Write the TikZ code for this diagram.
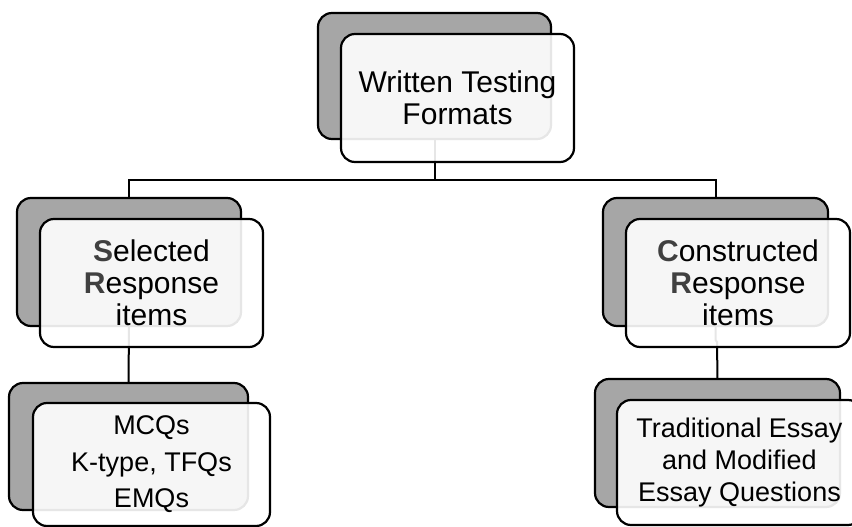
\documentclass[tikz,border=0pt]{standalone}
\usepackage{fontspec}
\setmainfont{Liberation Sans}
\usetikzlibrary{backgrounds}

\definecolor{backgray}{HTML}{A6A6A6}
\definecolor{initgray}{HTML}{404040}
\newcommand{\initial}[1]{\textcolor{initgray}{\textbf{#1}}}

\tikzset{
  backbox/.style={draw, line width=2.2pt, rounded corners=14pt, fill=backgray,
    inner sep=0pt, outer sep=0pt},
  frontbox/.style={draw, line width=2.2pt, rounded corners=14pt, fill=white,
    fill opacity=0.9, text opacity=1, inner sep=0pt, outer sep=0pt,
    align=center, text=black},
  bigtext/.style={font=\fontsize{30}{32}\selectfont},
  smalltext/.style={font=\fontsize{27}{36.5}\selectfont},
  conn/.style={line width=2pt}
}

\begin{document}
\begin{tikzpicture}[x=1pt,y=-1pt]
  \useasboundingbox (0,0) rectangle (852,527);
  \clip (0,0) rectangle (852,527);

  % top level
  \node[backbox, minimum width=233, minimum height=126] (topback) at (434.5,76) {};
  \node[frontbox, bigtext, minimum width=233, minimum height=128] (top) at (457.5,98)
    {Written Testing\\Formats};

  % second level
  \node[backbox, minimum width=224, minimum height=128] (selback) at (129,262) {};
  \node[frontbox, bigtext, minimum width=223, minimum height=128] (sel) at (151.5,283)
    {\initial{S}elected\\\initial{R}esponse\\items};
  \node[backbox, minimum width=225, minimum height=128] (conback) at (715.5,262) {};
  \node[frontbox, bigtext, minimum width=224, minimum height=128] (con) at (738,283)
    {\initial{C}onstructed\\\initial{R}esponse\\items};

  % third level
  \node[backbox, minimum width=239, minimum height=127] (mcqback) at (128.5,446.5) {};
  \node[frontbox, smalltext, minimum width=237, minimum height=123] (mcq) at (151.5,464.5)
    {MCQs\\K-type, TFQs\\EMQs};
  \node[backbox, minimum width=245, minimum height=128] (essback) at (717.5,443) {};
  \node[frontbox, font=\fontsize{27}{32}\selectfont,
    minimum width=245, minimum height=125] (ess) at (739.5,462.5)
    {Traditional Essay\\and Modified\\Essay Questions};

  % connectors behind the boxes
  \begin{scope}[on background layer]
    \coordinate (split) at (434.5,180);
    \draw[conn] (topback.south) -- (split);
    \draw[conn] (split) -| (selback.north);
    \draw[conn] (split) -| (conback.north);
    \draw[conn] (selback.south) -- (mcqback.north);
    \draw[conn] (conback.south) -- ++(0,14) -- ++(1.5,2) -- (essback.north);
  \end{scope}
\end{tikzpicture}
\end{document}
